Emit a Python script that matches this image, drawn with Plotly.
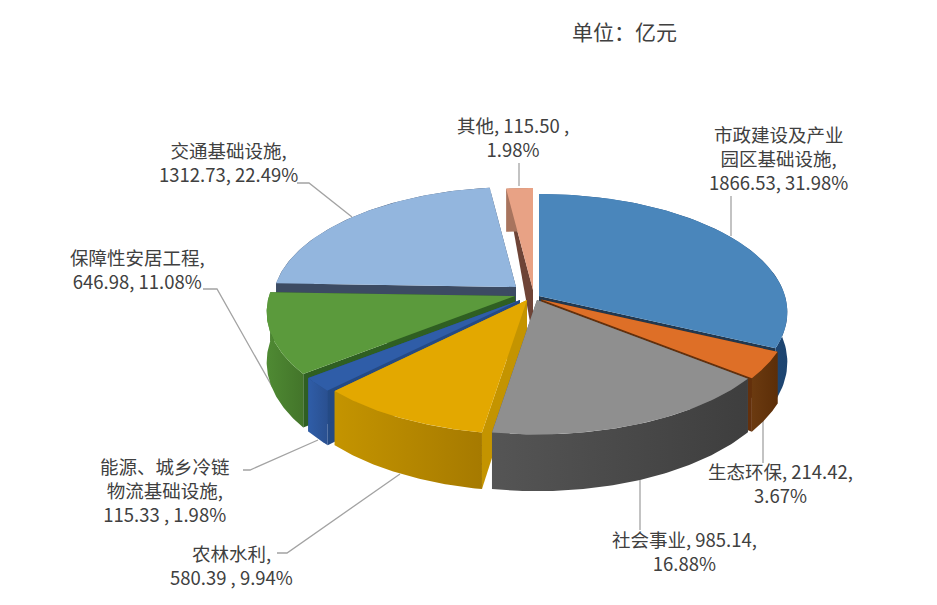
import numpy as np
import plotly.graph_objects as go

# data
names = ['市政建设及产业园区基础设施', '生态环保', '社会事业', '农林水利',
         '能源、城乡冷链物流基础设施', '保障性安居工程', '交通基础设施', '其他']
values = [1866.53, 214.42, 985.14, 580.39, 115.33, 646.98, 1312.73, 115.50]
shares = [31.98, 3.67, 16.88, 9.94, 1.98, 11.08, 22.49, 1.98]
label_lines = [
    ['市政建设及产业', '园区基础设施,', '1866.53, 31.98%'],
    ['生态环保, 214.42,', '3.67%'],
    ['社会事业, 985.14,', '16.88%'],
    ['农林水利,', '580.39 , 9.94%'],
    ['能源、城乡冷链', '物流基础设施,', '115.33 , 1.98%'],
    ['保障性安居工程,', '646.98, 11.08%'],
    ['交通基础设施,', '1312.73, 22.49%'],
    ['其他, 115.50 ,', '1.98%'],
]
unit_text = '单位：亿元'

# colours: top, outer wall (left, right), cut face
top_colors = ['#4a86bb', '#de6f27', '#8f8f8f', '#e3a800', '#2f5da8', '#5b9a3c', '#93b6de', '#e8a285']
wall_left = ['#2a5f94', '#6b3a10', '#555555', '#c49400', '#2f5da8', '#4f8a33', '#3c4b63', '#a8745e']
wall_right = ['#1d4470', '#5c2e08', '#3e3e3e', '#a67a00', '#2a5090', '#43752a', '#3c4b63', '#a8745e']
cut_colors = ['#22384f', '#63300c', '#5a5a5a', '#c49400', '#244a85', '#2f5f22', '#3c4b63', '#6e4437']

# where each exploded slice has its point, and how much it shrinks
apex_x = [539, 541, 537, 527, 520, 515, 516, 533]
apex_y = [296, 299.5, 300, 300, 300, 296, 287, 290]
slice_scale = [1, 1, 1, 1, 1, 1, 0.98, 1]
draw_order = [7, 6, 0, 5, 1, 4, 3, 2]

R = 246
R_TILT = 116
PERSP = 0.137
DEPTH = 49

# label position, then the leader line points
label_x = [778, 780, 684, 231, 165, 137, 228, 513]
label_y = [158, 483, 551, 565, 490, 269, 162, 137]
leader_x = [[731, 731], [763, 763], [640, 640], [400, 287, 277], [318, 250, 243], [273, 217, 203], [352, 309, 297], [519, 519]]
leader_y = [[236, 196], [415, 463], [480, 530], [474, 553, 553], [440, 470, 470], [388, 289, 289], [217, 183, 183], [163, 186]]


def rim(i, theta):
    # point on the slice edge, theta clockwise from the top, with perspective
    X = np.sin(theta)
    Z = np.cos(theta)
    s = slice_scale[i] / (1 + PERSP * Z)
    return apex_x[i] + R * X * s, apex_y[i] - R_TILT * Z * s, s


def poly(x, y, color=None, gradient=None):
    t = go.Scatter(x=x, y=y, mode='lines', fill='toself', line=dict(width=0), hoverinfo='skip', showlegend=False)
    if gradient:
        t.fillgradient = dict(type='horizontal', colorscale=[[0, gradient[0]], [1, gradient[1]]])
    else:
        t.fillcolor = color
    return t


fig = go.Figure()

for lx, ly in zip(leader_x, leader_y):
    fig.add_trace(go.Scatter(x=lx, y=ly, mode='lines', line=dict(color='#a3a3a3', width=1.3),
                             hoverinfo='skip', showlegend=False))

edges = np.radians(np.concatenate([[0], np.cumsum(shares) / sum(shares) * 360]))

for i in draw_order:
    a0, a1 = edges[i], edges[i + 1]
    th = np.linspace(a0, a1, 80)
    rx, ry, rs = rim(i, th)
    # cut faces
    for k in (0, -1):
        # the far corners barely drop below the top surface
        d = DEPTH * rs[k] if np.cos(th[k]) < 0.9 else 0
        fig.add_trace(poly([apex_x[i], rx[k], rx[k], apex_x[i]],
                           [apex_y[i], ry[k], ry[k] + d, apex_y[i] + DEPTH], cut_colors[i]))
    # outer wall
    fig.add_trace(poly(np.concatenate([rx, rx[::-1]]),
                       np.concatenate([ry, (ry + DEPTH * rs)[::-1]]),
                       gradient=(wall_left[i], wall_right[i])))
    # top
    fig.add_trace(poly(np.concatenate([[apex_x[i]], rx]), np.concatenate([[apex_y[i]], ry]), top_colors[i]))

annotations = [dict(x=624, y=31, text=unit_text, showarrow=False, font=dict(size=21))]
for i in range(len(names)):
    annotations.append(dict(x=label_x[i], y=label_y[i], text='<br>'.join(label_lines[i]), showarrow=False, align='center'))

fig.update_layout(
    width=937, height=605,
    margin=dict(l=0, r=0, t=0, b=0),
    paper_bgcolor='white', plot_bgcolor='white',
    font=dict(family='Noto Sans CJK SC', size=18.5, color='#404040'),
    xaxis=dict(range=[0, 937], visible=False, fixedrange=True),
    yaxis=dict(range=[605, 0], visible=False, fixedrange=True),
    annotations=annotations,
    showlegend=False,
)

fig.write_html("out.html", config=dict(displayModeBar=False), post_script="document.body.style.margin='0';")
